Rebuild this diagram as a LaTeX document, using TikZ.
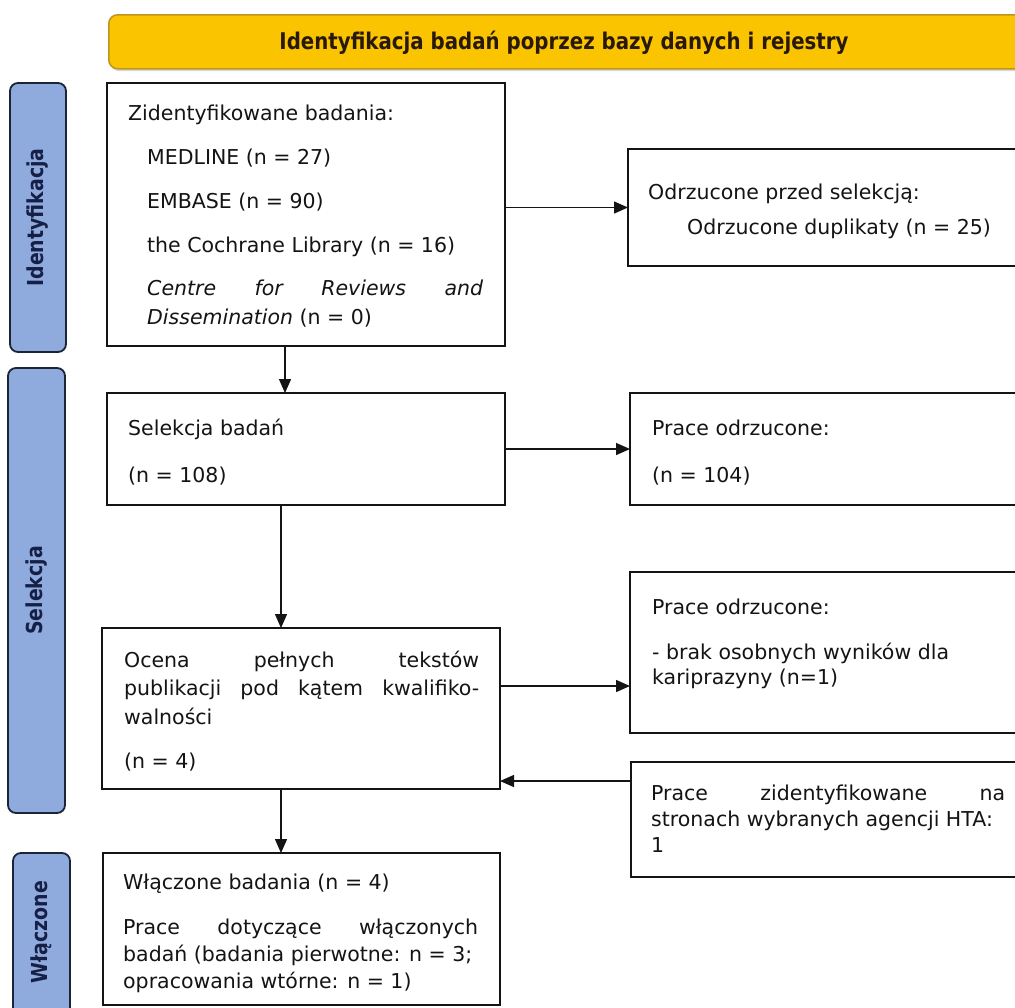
\documentclass[tikz,border=0pt]{standalone}
\usepackage{fontspec}
\setmainfont{DejaVu Sans}
\newfontfamily\banfont[FakeStretch=0.86]{DejaVu Sans}
\usetikzlibrary{arrows.meta}
\definecolor{bannerfill}{RGB}{250,196,0}
\definecolor{bannerdraw}{RGB}{190,150,30}
\definecolor{bannertext}{RGB}{40,25,10}
\definecolor{sidefill}{RGB}{143,170,220}
\definecolor{sidedraw}{RGB}{28,36,56}
\definecolor{sidetext}{RGB}{22,32,70}
\definecolor{ink}{RGB}{20,20,20}
\begin{document}
\begin{tikzpicture}[x=1pt,y=-1pt,
  box/.style={draw=ink, line width=2.1pt, anchor=north west, inner sep=0pt, outer sep=0pt},
  side/.style={draw=sidedraw, fill=sidefill, line width=1.8pt, rounded corners=8pt, anchor=north west, inner sep=0pt, outer sep=0pt},
  sidelabel/.style={rotate=90, font=\banfont\fontsize{22}{26}\selectfont\bfseries, text=sidetext, inner sep=0pt},
  txt/.style={anchor=base west, inner sep=0pt, text=ink, font=\fontsize{20.5}{25}\selectfont},
  arr/.style={draw=ink, line width=1.4pt, -{Triangle[length=14pt,width=12pt]}}
]
\path[use as bounding box] (0,0) rectangle (1015,1007);
\clip (0,0) rectangle (1015,1007);
\fill[white] (0,0) rectangle (1015,1007);

% banner
\node[anchor=north west, fill=black!30, opacity=0.5, rounded corners=9pt, minimum width=930pt, minimum height=54pt, inner sep=0pt] (bansh) at (110,17) {};
\node[anchor=north west, draw=bannerdraw, fill=bannerfill, line width=1.5pt, rounded corners=9pt, minimum width=930pt, minimum height=54pt, inner sep=0pt] (ban) at (108,14) {};
\node[anchor=base, inner sep=0pt, text=bannertext, font=\banfont\fontsize{23}{26}\selectfont\bfseries] (bantxt) at (564,49) {Identyfikacja badań poprzez bazy danych i rejestry};

% side labels
\node[side, minimum width=56pt, minimum height=269pt] (sid1) at (10,83) {};
\node[sidelabel] (sid1t) at (sid1.center) {Identyfikacja};
\node[side, minimum width=57pt, minimum height=445pt] (sid2) at (8,368) {};
\node[sidelabel] (sid2t) at (sid2.center) {Selekcja};
\node[side, minimum width=57pt, minimum height=180pt] (sid3) at (13,853) {};
\node[sidelabel] (sid3t) at (41,932) {Włączone};

% boxes
\node[box, minimum width=398pt, minimum height=263pt] (b1) at (107,83) {};
\node[box, minimum width=420pt, minimum height=117pt] (dup) at (628,149) {};
\node[box, minimum width=398pt, minimum height=112pt] (sel) at (107,393) {};
\node[box, minimum width=420pt, minimum height=112pt] (odr1) at (630,393) {};
\node[box, minimum width=398pt, minimum height=161pt] (oce) at (102,628) {};
\node[box, minimum width=420pt, minimum height=161pt] (odr2) at (630,572) {};
\node[box, minimum width=420pt, minimum height=115pt] (hta) at (631,762) {};
\node[box, minimum width=397pt, minimum height=152pt] (incl) at (103,853) {};

% texts box1
\node[txt] (t11) at (128,120) {Zidentyfikowane badania:};
\node[txt] (t12) at (147,164) {MEDLINE (n = 27)};
\node[txt] (t13) at (147,208) {EMBASE (n = 90)};
\node[txt] (t14) at (147,252) {the Cochrane Library (n = 16)};
\node[txt] (t15) at (147,295) {\makebox[336pt][s]{\itshape Centre for Reviews and}};
\node[txt] (t16) at (147,324) {\textit{Dissemination} (n = 0)};
% dup
\node[txt] (t21) at (648,199) {Odrzucone przed selekcją:};
\node[txt] (t22) at (687,234) {Odrzucone duplikaty (n = 25)};
% sel
\node[txt] (t31) at (128,435) {Selekcja badań};
\node[txt] (t32) at (128,482) {(n = 108)};
% odr1
\node[txt] (t41) at (652,435) {Prace odrzucone:};
\node[txt] (t42) at (652,482) {(n = 104)};
% odr2
\node[txt] (t51) at (652,614) {Prace odrzucone:};
\node[txt] (t52) at (652,659) {- brak osobnych wyników dla};
\node[txt] (t53) at (652,684) {kariprazyny (n=1)};
% oce
\node[txt] (t61) at (124,667) {\makebox[355pt][s]{Ocena pełnych tekstów}};
\node[txt] (t62) at (124,695) {\makebox[355pt][s]{publikacji pod kątem kwalifiko-}};
\node[txt] (t63) at (124,724) {walności};
\node[txt] (t64) at (124,768) {(n = 4)};
% hta
\node[txt] (t71) at (651,800) {\makebox[354pt][s]{Prace zidentyfikowane na}};
\node[txt] (t72) at (651,826) {stronach wybranych agencji HTA:};
\node[txt] (t73) at (651,852) {1};
% incl
\node[txt] (t81) at (123,889) {Włączone badania (n = 4)};
\node[txt] (t82) at (123,934) {\makebox[355pt][s]{Prace dotyczące włączonych}};
\node[txt] (t83) at (123,961) {badań (badania pierwotne: n = 3;};
\node[txt] (t84) at (123,988) {opracowania wtórne: n = 1)};

% connectors
\coordinate (xa) at (285,0);
\coordinate (xb) at (281,0);
\coordinate (ya) at (0,686);
\coordinate (yb) at (0,781);
\draw[arr] (b1.east |- dup.west) -- (dup.west);
\draw[arr] (xa |- b1.south) -- (xa |- sel.north);
\draw[arr] (sel.east) -- (sel.east -| odr1.west);
\draw[arr] (xb |- sel.south) -- (xb |- oce.north);
\draw[arr] (ya -| oce.east) -- (ya -| odr2.west);
\draw[arr] (yb -| hta.west) -- (yb -| oce.east);
\draw[arr] (xb |- oce.south) -- (xb |- incl.north);
\end{tikzpicture}
\end{document}
